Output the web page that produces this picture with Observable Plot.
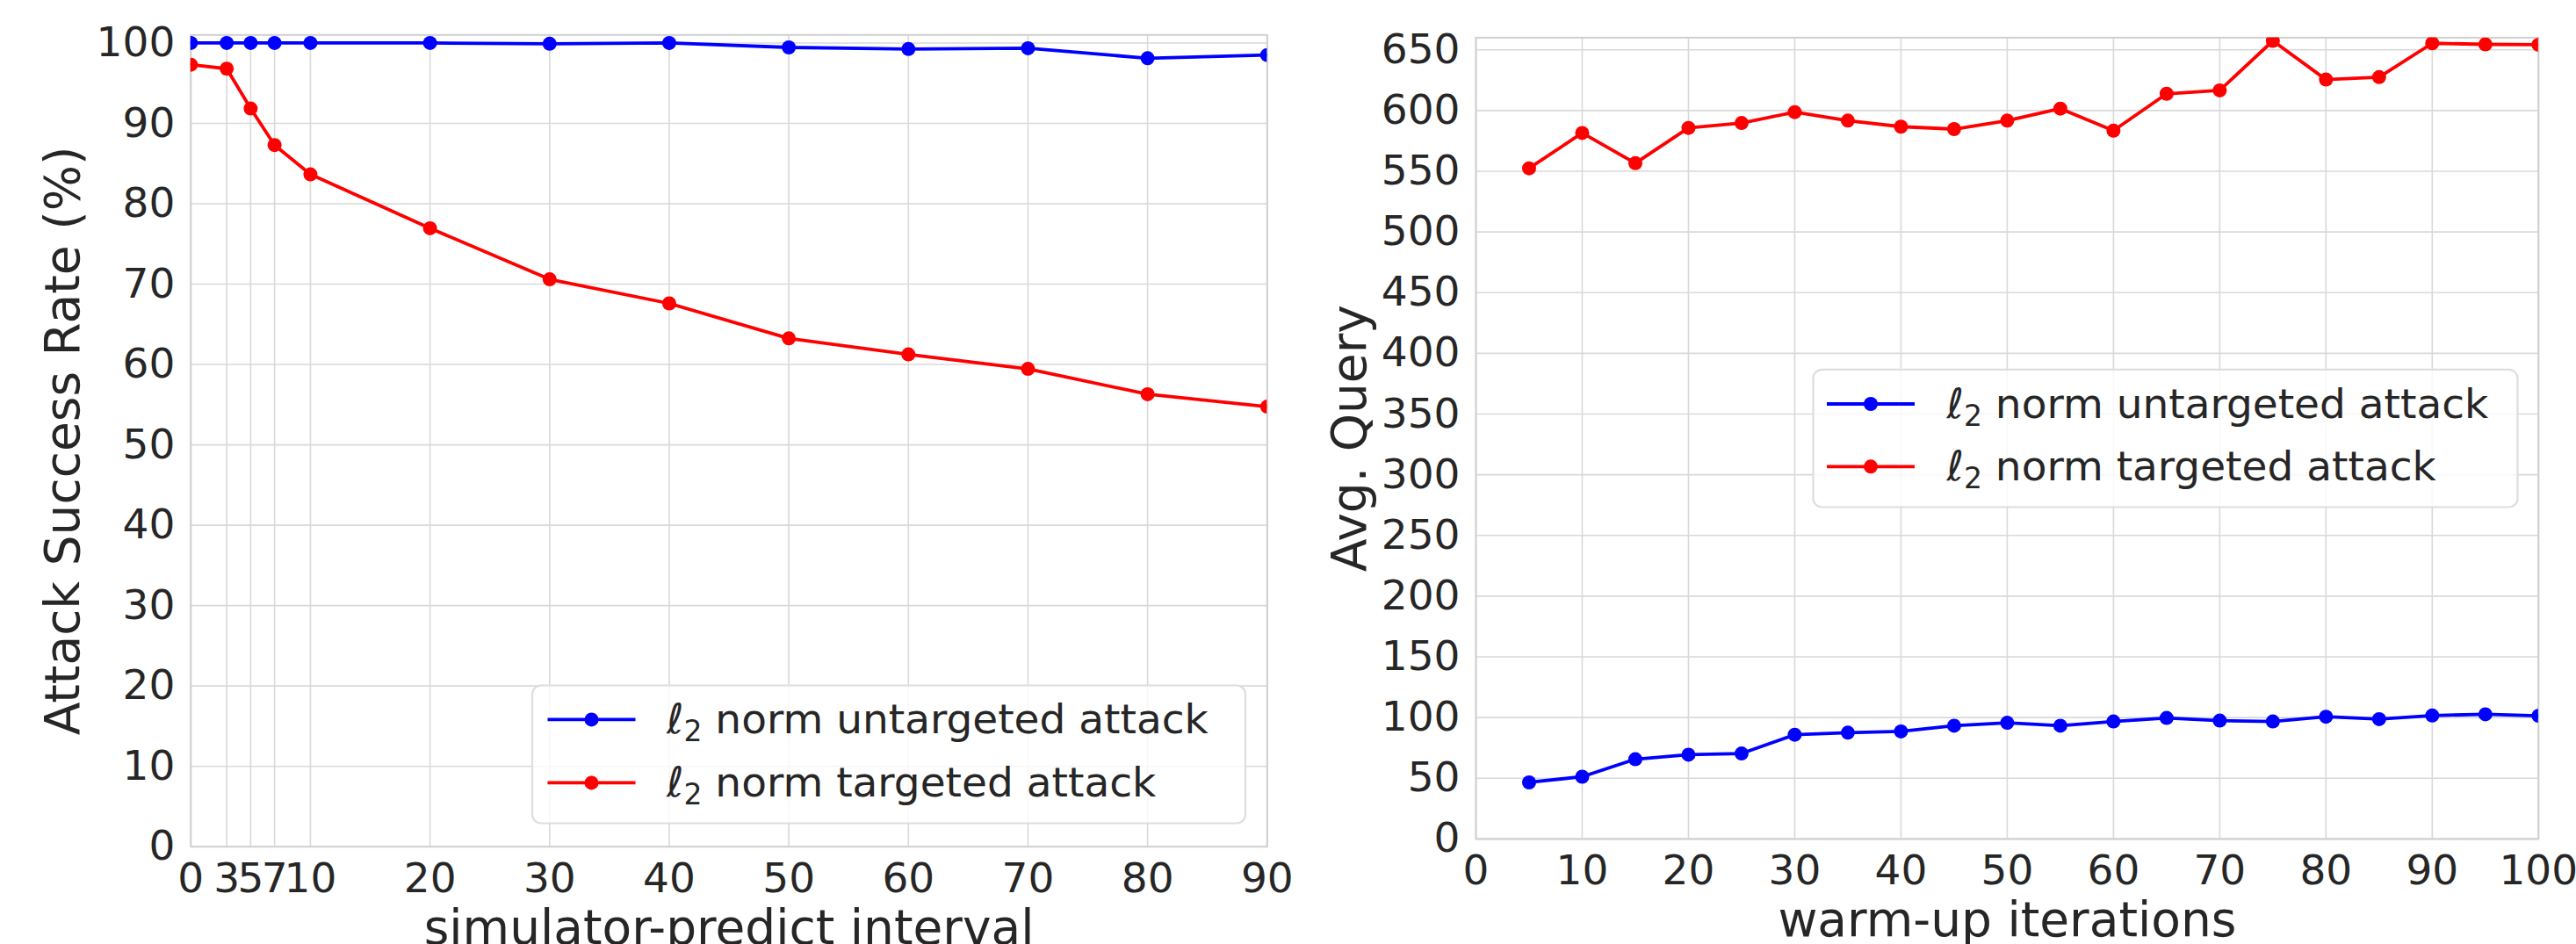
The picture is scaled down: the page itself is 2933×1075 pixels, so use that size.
<!DOCTYPE html>
<html>
<head>
<meta charset="utf-8">
<script src="https://cdn.jsdelivr.net/npm/d3@7"></script>
<script src="https://cdn.jsdelivr.net/npm/@observablehq/plot@0.6"></script>
<style>
  html, body { margin: 0; padding: 0; background: #ffffff; overflow: hidden; }
  #wrap { position: relative; width: 2933px; height: 1075px; font-family: "DejaVu Sans", sans-serif; }
  #wrap > svg, #wrap > div { position: absolute; top: 0; }
</style>
</head>
<body>
<div id="wrap"></div>
<script>
// ---------- Data ----------
const legendLabels = ["norm untargeted attack", "norm targeted attack"];
const seriesColors = ["#0000ff", "#ff0000"];

// Left: attack success rate vs simulator-predict interval
const leftX = [0, 3, 5, 7, 10, 20, 30, 40, 50, 60, 70, 80, 90];
const leftUntargeted = [100, 100, 100, 100, 100, 100, 99.9, 100, 99.45, 99.25, 99.35, 98.1, 98.5];
const leftTargeted = [97.3, 96.8, 91.85, 87.3, 83.65, 76.95, 70.6, 67.6, 63.25, 61.25, 59.45, 56.3, 54.75];
const leftXTicks = [0, 3, 5, 7, 10, 20, 30, 40, 50, 60, 70, 80, 90];
const leftYTicks = [0, 10, 20, 30, 40, 50, 60, 70, 80, 90, 100];
const leftXLabel = "simulator-predict interval";
const leftYLabel = "Attack Success Rate (%)";

// Right: avg. query vs warm-up iterations
const rightX = [5, 10, 15, 20, 25, 30, 35, 40, 45, 50, 55, 60, 65, 70, 75, 80, 85, 90, 95, 100];
const rightUntargeted = [46.6, 51.3, 65.7, 69.4, 70.4, 85.9, 87.6, 88.6, 93.3, 95.7, 93.3, 96.8, 99.7, 97.5, 96.8, 100.7, 98.7, 101.7, 102.7, 101.5];
const rightTargeted = [552.4, 581.5, 556.6, 585.7, 589.7, 598.7, 591.7, 586.7, 584.7, 591.7, 601.6, 583.4, 613.8, 616.6, 657.4, 625.5, 627.5, 655.4, 654.5, 654.2];
const rightXTicks = [0, 10, 20, 30, 40, 50, 60, 70, 80, 90, 100];
const rightYTicks = [0, 50, 100, 150, 200, 250, 300, 350, 400, 450, 500, 550, 600, 650];
const rightXLabel = "warm-up iterations";
const rightYLabel = "Avg. Query";

// ---------- Style ----------
const TEXT = "#262626";
const GRID = "#d9d9d9";
const FRAME = "#d0d0d0";
const TICK_FS = 47;
const LABEL_FS = 55;
const LINE_W = 3.8;
const DOT_R = 8;

function makePanel(cfg) {
  const rows = (xs, ys) => xs.map((x, i) => ({x, y: ys[i]}));
  return Plot.plot({
    width: cfg.width,
    height: 1075,
    marginLeft: cfg.ml, marginRight: cfg.mr, marginTop: cfg.mt, marginBottom: cfg.mb,
    x: {domain: cfg.xDomain},
    y: {domain: cfg.yDomain},
    style: {fontFamily: "DejaVu Sans", fontSize: TICK_FS + "px", color: TEXT, background: "transparent", overflow: "visible"},
    marks: [
      Plot.gridX(cfg.xTicks, {stroke: GRID, strokeOpacity: 1, strokeWidth: 1.6}),
      Plot.gridY(cfg.yTicks, {stroke: GRID, strokeOpacity: 1, strokeWidth: 1.6}),
      Plot.frame({stroke: FRAME, strokeWidth: 2}),
      Plot.axisX(cfg.xTicks, {tickSize: 0, tickPadding: 18, fontSize: TICK_FS, label: null, fill: TEXT}),
      Plot.axisY(cfg.yTicks, {tickSize: 0, tickPadding: 18, fontSize: TICK_FS, label: null, fill: TEXT}),
      Plot.line(rows(cfg.xs, cfg.ys[0]), {x: "x", y: "y", stroke: seriesColors[0], strokeWidth: LINE_W, clip: true}),
      Plot.dot(rows(cfg.xs, cfg.ys[0]), {x: "x", y: "y", fill: seriesColors[0], r: DOT_R, clip: true}),
      Plot.line(rows(cfg.xs, cfg.ys[1]), {x: "x", y: "y", stroke: seriesColors[1], strokeWidth: LINE_W, clip: true}),
      Plot.dot(rows(cfg.xs, cfg.ys[1]), {x: "x", y: "y", fill: seriesColors[1], r: DOT_R, clip: true}),
      Plot.text([cfg.xLabel], {frameAnchor: "bottom", text: d => d, textAnchor: "middle", lineAnchor: "bottom", dy: cfg.xLabelDy, fontSize: LABEL_FS, fill: TEXT}),
      Plot.text([cfg.yLabel], {frameAnchor: "left", text: d => d, textAnchor: "middle", rotate: -90, lineAnchor: "bottom", dx: cfg.yLabelDx, fontSize: LABEL_FS, fill: TEXT})
    ]
  });
}

const wrap = document.getElementById("wrap");

const left = makePanel({
  width: 1470, ml: 216.8, mr: 27.7, mt: 39.3, mb: 111.3,
  xDomain: [0, 90], yDomain: [0, 101],
  xTicks: leftXTicks, yTicks: leftYTicks,
  xs: leftX, ys: [leftUntargeted, leftTargeted],
  xLabel: leftXLabel, yLabel: leftYLabel,
  xLabelDy: 111, yLabelDx: -127.5
});
left.style.left = "0px";
wrap.appendChild(left);

const right = makePanel({
  width: 1463, ml: 210, mr: 43.2, mt: 42.4, mb: 120.1,
  xDomain: [0, 100], yDomain: [0, 660],
  xTicks: rightXTicks, yTicks: rightYTicks,
  xs: rightX, ys: [rightUntargeted, rightTargeted],
  xLabel: rightXLabel, yLabel: rightYLabel,
  xLabelDy: 110.5, yLabelDx: -126
});
right.style.left = "1470px";
wrap.appendChild(right);

// ---------- Legends ----------
const overlay = d3.create("svg")
  .attr("width", 2933).attr("height", 1075)
  .style("left", "0px").style("pointer-events", "none")
  .style("font-family", "DejaVu Sans");

function legend(box) {
  const g = overlay.append("g");
  g.append("rect")
    .attr("x", box.x).attr("y", box.y).attr("width", box.w).attr("height", box.h)
    .attr("rx", 10).attr("ry", 10)
    .attr("fill", "rgba(255,255,255,0.8)")
    .attr("stroke", "#dedede").attr("stroke-width", 2.2);
  legendLabels.forEach((lab, i) => {
    const cy = box.y + box.rows[i];
    const x0 = box.x + box.lineX0, x1 = x0 + 100;
    g.append("line").attr("x1", x0).attr("x2", x1).attr("y1", cy).attr("y2", cy)
      .attr("stroke", seriesColors[i]).attr("stroke-width", LINE_W);
    g.append("circle").attr("cx", (x0 + x1) / 2).attr("cy", cy).attr("r", DOT_R).attr("fill", seriesColors[i]);
    const t = g.append("text").attr("x", box.x + box.textX).attr("y", cy + 16)
      .attr("font-size", TICK_FS).attr("fill", TEXT);
    t.append("tspan").attr("font-style", "italic").text("\u2113");
    t.append("tspan").attr("font-size", 33).attr("dy", 8.5).text("2");
    t.append("tspan").attr("dy", -8.5).text(" " + lab);
  });
}

legend({x: 606, y: 780.5, w: 812, h: 157, rows: [38.9, 110.9], lineX0: 17.5, textX: 153});
legend({x: 2064.5, y: 420.8, w: 802, h: 156.7, rows: [39.2, 110.5], lineX0: 15.5, textX: 152});

wrap.appendChild(overlay.node());
</script>
</body>
</html>
